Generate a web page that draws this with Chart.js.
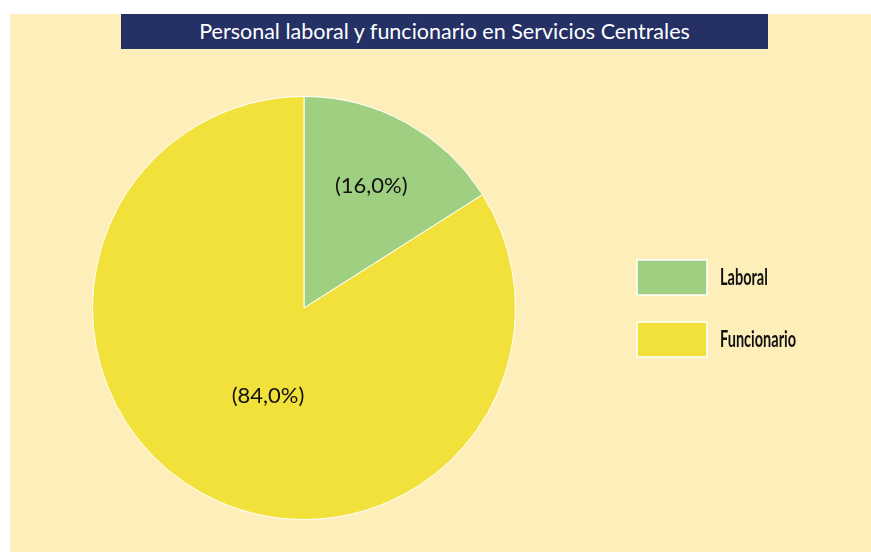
<!DOCTYPE html>
<html>
<head>
<meta charset="utf-8">
<script src="https://cdn.jsdelivr.net/npm/chart.js@4/dist/chart.umd.min.js"></script>
<style>
  html, body { margin: 0; padding: 0; background: #ffffff; }
  #panel { position: absolute; left: 10px; top: 14px; width: 861px; height: 538px; background: #FDEEBA; }
  #title {
    position: absolute; left: 121px; top: 14px; width: 647px; height: 35px;
    background: #253065; color: #ffffff; text-align: center;
    font: 21.5px Lato, 'Open Sans', sans-serif; line-height: 35px; z-index: 2;
  }
  #wrap { position: absolute; left: 10px; top: 14px; width: 861px; height: 538px; }
</style>
</head>
<body>
<div id="panel"></div>
<div id="title">Personal laboral y funcionario en Servicios Centrales</div>
<div id="wrap"><canvas id="c"></canvas></div>
<script>
const categories = ['Laboral', 'Funcionario']
const shares = [16.0, 84.0]
const sliceLabels = ['(16,0%)', '(84,0%)']
const colors = ['#9FCF80', '#F3E13B']

// where each percentage sits: fraction of the radius, nudge off the mid angle
const labelRadius = [0.66, 0.45]
const labelTurn = [0, -0.115]

const sliceText = {
  id: 'sliceText',
  afterDatasetsDraw(chart) {
    const ctx = chart.ctx
    const arcs = chart.getDatasetMeta(0).data
    ctx.save()
    ctx.fillStyle = '#111111'
    ctx.font = '22px Lato, "Open Sans", sans-serif'
    ctx.textAlign = 'center'
    ctx.textBaseline = 'middle'
    arcs.forEach((arc, i) => {
      const mid = (arc.startAngle + arc.endAngle) / 2 + labelTurn[i]
      const r = arc.outerRadius * labelRadius[i]
      ctx.fillText(sliceLabels[i], arc.x + Math.cos(mid) * r, arc.y + Math.sin(mid) * r)
    })
    ctx.restore()
  }
}

// legend on the right, narrow bold type like the original
const sideLegend = {
  id: 'sideLegend',
  afterDraw(chart) {
    const ctx = chart.ctx
    const x = 627, y0 = 246, gap = 62
    ctx.save()
    chart.data.labels.forEach((lab, i) => {
      const y = y0 + i * gap
      ctx.fillStyle = chart.data.datasets[0].backgroundColor[i]
      ctx.fillRect(x, y, 70, 35)
      ctx.strokeStyle = '#ffffff'
      ctx.lineWidth = 1.5
      ctx.strokeRect(x, y, 70, 35)
      ctx.save()
      ctx.translate(x + 83, y + 18)
      ctx.scale(0.66, 1)
      ctx.font = 'bold 22px Lato, sans-serif'
      ctx.textBaseline = 'middle'
      ctx.fillStyle = '#111111'
      ctx.fillText(lab, 0, 0)
      ctx.restore()
    })
    ctx.restore()
  }
}

new Chart(document.getElementById('c'), {
  type: 'pie',
  data: {
    labels: categories,
    datasets: [{
      data: shares,
      backgroundColor: colors,
      borderColor: '#ffffff',
      borderWidth: 1
    }]
  },
  options: {
    responsive: true,
    maintainAspectRatio: false,
    animation: false,
    layout: { padding: { left: 82, top: 82, right: 355, bottom: 32 } },
    plugins: {
      legend: { display: false },
      tooltip: { enabled: false }
    }
  },
  plugins: [sliceText, sideLegend]
})
</script>
</body>
</html>
